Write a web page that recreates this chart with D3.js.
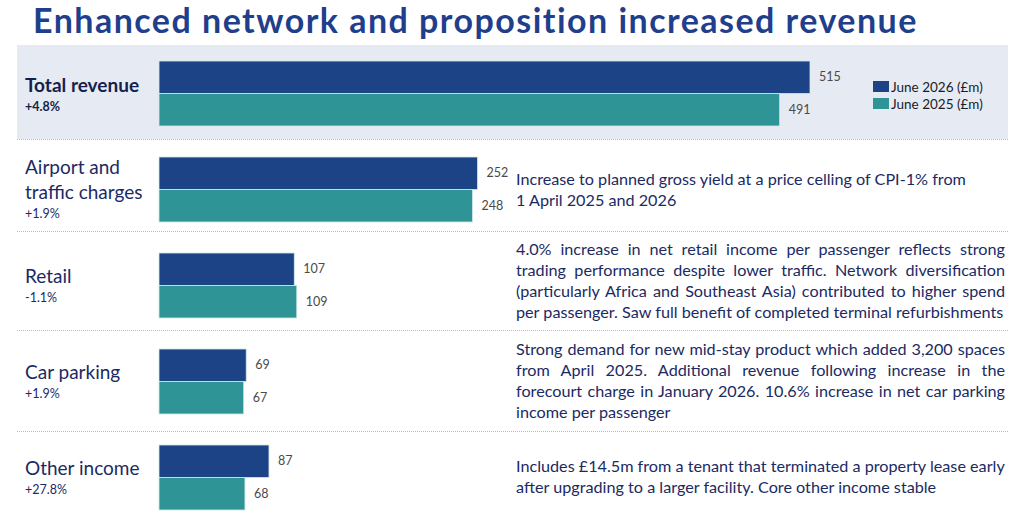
<!DOCTYPE html>
<html>
<head>
<meta charset="utf-8">
<script src="https://cdn.jsdelivr.net/npm/d3@7/dist/d3.min.js"></script>
<style>
  body { margin: 0; background: #fff; }
  svg { display: block; font-family: Lato, "Noto Sans", sans-serif; }
</style>
</head>
<body>
<div id="chart"></div>
<script>
// data
var categories = ["Total revenue", "Airport and|traffic charges", "Retail", "Car parking", "Other income"];
var june2026 = [515, 252, 107, 69, 87];
var june2025 = [491, 248, 109, 67, 68];
var changes = ["+4.8%", "+1.9%", "-1.1%", "+1.9%", "+27.8%"];
var seriesNames = ["June 2026 (£m)", "June 2025 (£m)"];
var notes = [
  null,
  ["Increase to planned gross yield at a price celling of CPI-1% from", "1 April 2025 and 2026"],
  ["4.0% increase in net retail income per passenger reflects strong",
   "trading performance despite lower traffic. Network diversification",
   "(particularly Africa and Southeast Asia) contributed to higher spend",
   "per passenger. Saw full benefit of completed terminal refurbishments"],
  ["Strong demand for new mid-stay product which added 3,200 spaces",
   "from April 2025. Additional revenue following increase in the",
   "forecourt charge in January 2026. 10.6% increase in net car parking",
   "income per passenger"],
  ["Includes £14.5m from a tenant that terminated a property lease early",
   "after upgrading to a larger facility. Core other income stable"]
];
var justified = [false, false, true, true, false];
var noteOffset = [0, 28, 2, 6, 27]; // first baseline below the row top

var W = 1020, H = 532;
var navy = "#1c4386", teal = "#2e9496", ink = "#1b2a63";

var svg = d3.select("#chart").append("svg").attr("width", W).attr("height", H);

// scales
var x = d3.scaleLinear().domain([0, 515]).range([159, 810]);
var rowTop = d3.scaleLinear().domain([0, 1]).range([61, 157]);
var sub = d3.scaleBand().domain(seriesNames).range([0, 65]);

// spread letters so the text takes a given width
var spreadTo = function(sel, width) {
  var n = sel.node();
  var w = n.getComputedTextLength();
  sel.attr("letter-spacing", (width - w) / (sel.text().length - 1));
};

// title
svg.append("text")
  .attr("x", 33).attr("y", 33)
  .attr("font-size", 34).attr("font-weight", 700)
  .attr("fill", "#1f3f8c")
  .text("Enhanced network and proposition increased revenue")
  .call(spreadTo, 884);

// highlight band for total
svg.append("rect")
  .attr("x", 17).attr("y", 45).attr("width", 991).attr("height", 94)
  .attr("fill", "#e6eaf3");

// dotted separators
var sepY = [139, 231, 330, 431];
svg.append("g").selectAll("line").data(sepY).enter().append("line")
  .attr("x1", 17).attr("x2", 1008)
  .attr("y1", function(d) { return d + 0.5; }).attr("y2", function(d) { return d + 0.5; })
  .attr("stroke", "#b5bcc9").attr("stroke-width", 1).attr("stroke-dasharray", "1,1");

var rows = categories.map(function(c, i) {
  return { name: c, i: i, vals: [june2026[i], june2025[i]], change: changes[i], note: notes[i], just: justified[i] };
});

var row = svg.append("g").selectAll("g.row").data(rows).enter().append("g")
  .attr("class", "row")
  .attr("transform", function(d) { return "translate(0," + rowTop(d.i) + ")"; });

// bars
row.selectAll("rect.bar")
  .data(function(d) { return d.vals.map(function(v, k) { return { v: v, s: seriesNames[k] }; }); })
  .enter().append("rect").attr("class", "bar")
  .attr("x", x(0))
  .attr("y", function(d) { return sub(d.s); })
  .attr("width", function(d) { return x(d.v) - x(0); })
  .attr("height", sub.bandwidth())
  .attr("fill", function(d, k) { return k === 0 ? navy : teal; })
  .attr("stroke", "#d2e8ea").attr("stroke-width", 0.8);

// value labels
row.selectAll("text.val")
  .data(function(d) { return d.vals.map(function(v, k) { return { v: v, s: seriesNames[k] }; }); })
  .enter().append("text").attr("class", "val")
  .attr("x", function(d) { return x(d.v) + 9; })
  .attr("y", function(d) { return sub(d.s) + sub.bandwidth() / 2 + 4; })
  .attr("font-size", 12.5).attr("fill", "#4a4a4a")
  .text(function(d) { return d.v; });

// category labels
row.each(function(d) {
  var g = d3.select(this);
  var lines = d.name.split("|");
  var base = d.i === 0 ? 31 : (lines.length > 1 ? 17 : 30);
  lines.forEach(function(l, j) {
    g.append("text")
      .attr("x", 25).attr("y", base + j * 25)
      .attr("font-size", 19).attr("font-weight", d.i === 0 ? 700 : 400)
      .attr("fill", d.i === 0 ? "#141f4d" : ink)
      .text(l);
  });
  g.append("text")
    .attr("x", 25).attr("y", base + (lines.length - 1) * 25 + 19)
    .attr("font-size", 12.5).attr("font-weight", d.i === 0 ? 700 : 400)
    .attr("fill", d.i === 0 ? "#141f4d" : ink)
    .text(d.change);

  // description text
  if (d.note) {
    d.note.forEach(function(l, j) {
      var t = g.append("text")
        .attr("x", 516).attr("y", noteOffset[d.i] + j * 21)
        .attr("font-size", 16.2).attr("fill", ink)
        .text(l);
      if (d.just && j < d.note.length - 1) {
        var w = t.node().getComputedTextLength();
        var spaces = l.split(" ").length - 1;
        t.attr("word-spacing", (489 - w) / spaces);
      }
    });
  }
});

// legend
var leg = svg.append("g").attr("transform", "translate(873,81)");
seriesNames.forEach(function(s, k) {
  leg.append("rect").attr("x", 0).attr("y", k * 17).attr("width", 16).attr("height", 11)
    .attr("fill", k === 0 ? navy : teal);
  leg.append("text").attr("x", 18).attr("y", k * 17 + 10.5)
    .attr("font-size", 13.5).attr("fill", "#1a1a2a")
    .text(s);
});
</script>
</body>
</html>
